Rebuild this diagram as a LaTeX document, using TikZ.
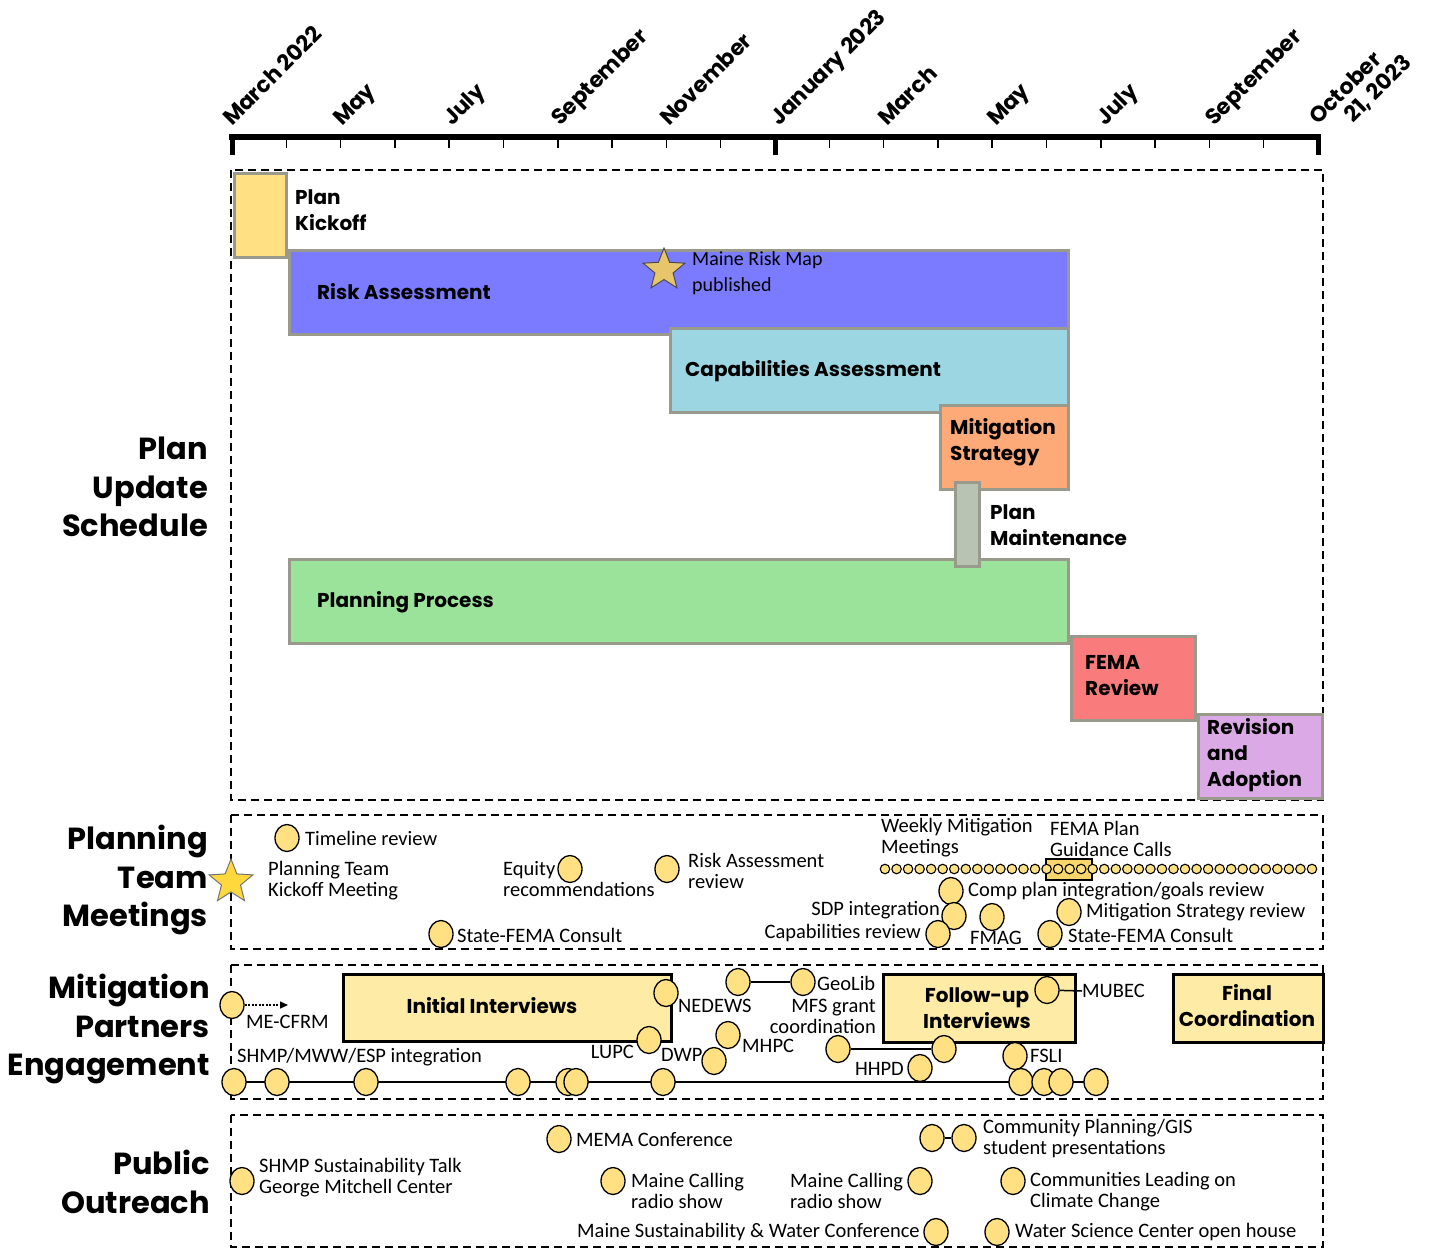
\documentclass[tikz,border=0pt]{standalone}
\usepackage{fontspec}
\setmainfont{Carlito}
\newfontfamily\hdfont{Poppins}
\usetikzlibrary{shapes.geometric,arrows.meta,backgrounds}
\definecolor{evfill}{HTML}{FFE083}
\definecolor{kickc}{HTML}{FFE082}
\definecolor{riskc}{HTML}{7B7BFF}
\definecolor{capc}{HTML}{9DD6E3}
\definecolor{mitc}{HTML}{FDAA78}
\definecolor{maintc}{HTML}{B8C3B3}
\definecolor{planc}{HTML}{9BE29A}
\definecolor{femac}{HTML}{F97B7B}
\definecolor{revc}{HTML}{DBA9E5}
\definecolor{bargray}{HTML}{9A9A8C}
\definecolor{iboxfill}{HTML}{FDEBA6}
\definecolor{fpgfill}{HTML}{F8D66B}
\definecolor{staraa}{HTML}{E7C66B}
\definecolor{starbb}{HTML}{FFD83E}
\newcommand\myfsm{\fontsize{20.5}{21}\selectfont}
\newcommand\myfbar{\hdfont\bfseries\fontsize{20}{26}\selectfont}
\newcommand\myfhead{\hdfont\bfseries\fontsize{30.5}{38.5}\selectfont}
\newcommand\myfmonth{\hdfont\bfseries\fontsize{22}{24}\selectfont}
\begin{document}
\begin{tikzpicture}[x=1pt,y=-1pt,
  ev/.style={ellipse, draw=black, line width=1.3pt, fill=evfill, minimum width=24pt, minimum height=27pt, inner sep=0pt},
  dotc/.style={circle, draw=black, line width=1.1pt, fill=evfill, minimum size=9.5pt, inner sep=0pt},
  txt/.style={font=\myfsm, inner sep=0pt, align=left},
  bar/.style={draw=bargray, line width=3pt, inner sep=0pt, anchor=north west},
  barlbl/.style={font=\myfbar, inner sep=0pt, align=left, anchor=west},
  head/.style={font=\myfhead, inner sep=0pt, align=right, anchor=east},
  secbox/.style={draw, dash pattern=on 8pt off 5pt, line width=2.3pt},
  ibox/.style={draw=black, line width=2.5pt, fill=iboxfill, inner sep=0pt, anchor=north west, font=\myfbar, align=center},
  link/.style={line width=1.5pt},
  month/.style={font=\myfmonth, rotate=45, anchor=base west, inner sep=0pt}
]
\useasboundingbox (0,0) rectangle (1438,1250);

% ---- time axis
\draw[line width=6pt] (229,137) -- (1321,137);
\foreach \k in {1,...,9,11,12,...,19}{
  \draw[line width=1.5pt] (232+54.3*\k,137) -- (232+54.3*\k,148);
}
\foreach \xx in {232,775,1318}{
  \draw[line width=5pt] (\xx,137) -- (\xx,155);
}
\node[month] (mA) at (232,127) {March 2022};
\node[month] (mB) at (342,127) {May};
\node[month] (mC) at (452,127) {July};
\node[month] (mD) at (560,127) {September};
\node[month] (mE) at (669,127) {November};
\node[month] (mF) at (779,127) {January 2023};
\node[month] (mG) at (887,127) {March};
\node[month] (mH) at (996,127) {May};
\node[month] (mI) at (1105,127) {July};
\node[month] (mJ) at (1214,127) {September};
\node[month] (mK) at (1318,126) {October};
\node[month] (mL) at (1353,124) {21, 2023};

% ---- section boxes
\draw[secbox] (231,170) rectangle (1323,800);
\draw[secbox] (231,815) rectangle (1323,949);
\draw[secbox] (231,965) rectangle (1323,1099);
\draw[secbox] (231,1115) rectangle (1323,1247);

% ---- section headings
\node[head] (hA) at (208,487) {Plan\\Update\\Schedule};
\node[head] (hB) at (208,880) {Planning\\Team\\Meetings};
\node[head] (hC) at (210,1029) {Mitigation\\Partners\\Engagement};
\node[head] (hD) at (210,1182) {Public\\Outreach};

% ---- schedule bars
\node[bar, fill=kickc, minimum width=52pt, minimum height=84pt] (bKick) at (232.5,171.5) {};
\node[bar, fill=riskc, minimum width=779pt, minimum height=84pt] (bRisk) at (287.5,248.5) {};
\node[bar, fill=capc, minimum width=398pt, minimum height=84pt] (bCap) at (668.5,326.5) {};
\node[bar, fill=mitc, minimum width=128pt, minimum height=84pt] (bMit) at (938.5,403.5) {};
\node[bar, fill=planc, minimum width=779pt, minimum height=84pt] (bPlan) at (287.5,557.5) {};
\node[bar, fill=maintc, minimum width=24pt, minimum height=84pt] (bMaint) at (953.5,480.5) {};
\node[bar, fill=femac, minimum width=124pt, minimum height=84pt] (bFema) at (1069.5,634.5) {};
\node[bar, fill=revc, minimum width=124pt, minimum height=84pt] (bRev) at (1196.5,712.5) {};

\node[barlbl] (lKick) at (295,210) {Plan\\Kickoff};
\node[barlbl] (lRisk) at (317,292) {Risk Assessment};
\node[star, star points=5, star point ratio=2.3, minimum size=44pt, inner sep=0pt, fill=staraa, draw=black!70, line width=1pt] (sRisk) at (664,270) {};
\node[txt, anchor=west, font=\fontsize{20}{26}\selectfont] (tRisk) at (692,273) {Maine Risk Map\\published};
\node[barlbl] (lCap) at (685,371) {Capabilities Assessment};
\node[barlbl] (lMit) at (950,442) {Mitigation\\Strategy};
\node[barlbl] (lMaint) at (990,525) {Plan\\Maintenance};
\node[barlbl] (lPlan) at (317,602) {Planning Process};
\node[barlbl] (lFema) at (1085,676) {FEMA\\Review};
\node[barlbl] (lRev) at (1207,755) {Revision\\and\\Adoption};

% ---- planning team meetings
\node[star, star points=5, star point ratio=2.3, minimum size=46pt, inner sep=0pt, fill=starbb, draw=black!55, line width=1pt] (sKick) at (231,882) {};
\node[txt, anchor=west] (tKick) at (268,881) {Planning Team\\Kickoff Meeting};
\node[ev] (c1) at (287,838) {};
\node[txt, anchor=west] (t1) at (305,838) {Timeline review};
\node[ev] (c2) at (570,869) {};
\node[txt, anchor=west] (t2) at (503,879.5) {Equity\\recommendations};
\node[ev] (c3) at (667,869) {};
\node[txt, anchor=west] (t3) at (688,870.5) {Risk Assessment\\review};
\node[ev] (c4) at (441,934) {};
\node[txt, anchor=west] (t4) at (457,935) {State-FEMA Consult};
\node[txt, anchor=west] (tW) at (881,837.5) {Weekly Mitigation\\Meetings};
\node[txt, anchor=west] (tG) at (1050,838.5) {FEMA Plan\\Guidance Calls};
\node[draw=black, line width=2pt, fill=fpgfill, minimum width=46pt, minimum height=21pt, inner sep=0pt] (fpg) at (1068.5,869) {};
\foreach \i in {0,...,37}{
  \node[dotc] (d\i) at (885+11.54*\i,869) {};
}
\node[ev] (c5) at (951,891) {};
\node[txt, anchor=west] (t5) at (968,891) {Comp plan integration/goals review};
\node[ev] (c6) at (954,916) {};
\node[txt, anchor=east] (t6) at (940,910) {SDP integration};
\node[ev] (c7) at (938,934) {};
\node[txt, anchor=east] (t7) at (921,933) {Capabilities review};
\node[ev] (c8) at (992,917) {};
\node[txt, anchor=west] (t8) at (970,938) {FMAG};
\node[ev] (c9) at (1069,912) {};
\node[txt, anchor=west] (t9) at (1086,912) {Mitigation Strategy review};
\node[ev] (c10) at (1050,934) {};
\node[txt, anchor=west] (t10) at (1068,935) {State-FEMA Consult};

% ---- mitigation partners engagement
\node[ibox, minimum width=328pt, minimum height=67pt] (bInit) at (342,973) {};
\node[font=\myfbar, inner sep=0pt] (lInit) at (492,1006) {Initial Interviews};
\node[ibox, minimum width=192pt, minimum height=68pt] (bFol) at (882,973) {};
\node[font=\myfbar, inner sep=0pt, align=center] (lFol) at (977,1008) {Follow-up\\Interviews};
\node[ibox, minimum width=150pt, minimum height=68pt] (bFin) at (1172,973) {};
\node[font=\myfbar, inner sep=0pt, align=center] (lFin) at (1247,1006) {Final\\Coordination};

\node[ev] (m0) at (232,1005) {};
\coordinate (mArr) at (288,1005);
\draw[line width=1.3pt, dash pattern=on 2pt off 1.5pt, -{Triangle[length=8pt,width=7pt]}] (m0) -- (mArr);
\node[txt, anchor=west] (tm0) at (246,1022) {ME-CFRM};
\node[ev] (mNed) at (666,993) {};
\node[txt, anchor=west] (tNed) at (678,1006) {NEDEWS};
\node[ev] (mLupc) at (649,1040) {};
\node[txt, anchor=east] (tLupc) at (634,1052) {LUPC};
\node[txt, anchor=west] (tDwp) at (661,1055) {DWP};
\node[ev] (mDwp) at (714,1061) {};
\node[ev] (mMhpc) at (728,1035) {};
\node[txt, anchor=west] (tMhpc) at (742,1046) {MHPC};
\node[ev] (mGa) at (738,982) {};
\node[ev] (mGb) at (803,982) {};
\draw[link] (mGa) -- (mGb);
\node[txt, anchor=west] (tGeo) at (817,983) {GeoLib};
\node[txt, anchor=east, align=right] (tMfs) at (876,1016.5) {MFS grant\\coordination};
\node[ev] (mMub) at (1047,990) {};
\node[txt, anchor=west] (tMub) at (1082,991) {MUBEC};
\draw[link] (mMub) -- (tMub.west);
\node[ev] (mHa) at (838,1049) {};
\node[ev] (mHb) at (944,1049) {};
\draw[link] (mHa) -- (mHb);
\node[ev] (mHh) at (920,1068) {};
\node[txt, anchor=east] (tHh) at (904,1069) {HHPD};
\node[ev] (mFs) at (1015,1056) {};
\node[txt, anchor=west] (tFs) at (1030,1056) {FSLI};
\node[txt, anchor=west] (tShmp) at (237,1057) {SHMP/MWW/ESP integration};
\foreach \xx [count=\j] in {234,277,366,518,568,576,663,1021,1044,1061,1096}{
  \node[ev] (tl\j) at (\xx,1082) {};
}
\begin{scope}[on background layer]
  \draw[link] (tl1.center) -- (tl11.center);
\end{scope}

% ---- public outreach
\node[ev] (p1) at (242,1181) {};
\node[txt, anchor=west] (tp1) at (259,1177.5) {SHMP Sustainability Talk\\George Mitchell Center};
\node[ev] (p2) at (559,1139) {};
\node[txt, anchor=west] (tp2) at (576,1140) {MEMA Conference};
\node[ev] (p3) at (613,1181) {};
\node[txt, anchor=west] (tp3) at (631,1190.5) {Maine Calling\\radio show};
\node[txt, anchor=west] (tp4) at (790,1190.5) {Maine Calling\\radio show};
\node[ev] (p4) at (920,1181) {};
\node[txt, anchor=west] (tp5) at (577,1232) {Maine Sustainability \& Water Conference};
\node[ev] (p5) at (936,1232) {};
\node[ev] (p6) at (932,1138) {};
\node[ev] (p7) at (964,1138) {};
\draw[link] (p6) -- (p7);
\node[txt, anchor=west] (tp6) at (983,1138.5) {Community Planning/GIS\\student presentations};
\node[ev] (p8) at (1013,1181) {};
\node[txt, anchor=west] (tp8) at (1030,1191.5) {Communities Leading on\\Climate Change};
\node[ev] (p9) at (997,1232) {};
\node[txt, anchor=west] (tp9) at (1015,1232) {Water Science Center open house};
\end{tikzpicture}
\end{document}
